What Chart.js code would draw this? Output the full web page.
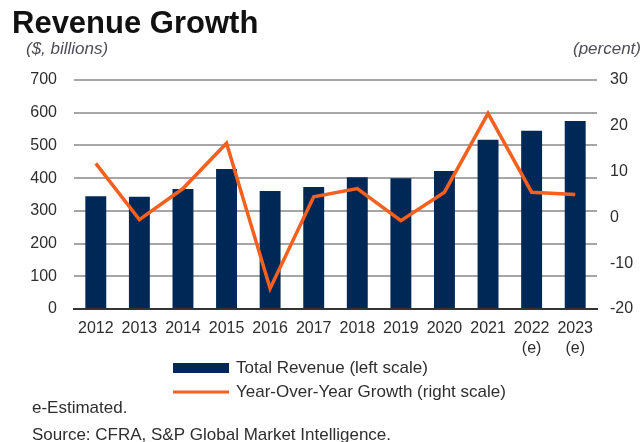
<!DOCTYPE html>
<html>
<head>
<meta charset="utf-8">
<script src="https://cdn.jsdelivr.net/npm/chart.js@4"></script>
<style>
  html, body { margin: 0; padding: 0; background: #fff; }
  #wrap { position: relative; width: 641px; height: 442px; }
</style>
</head>
<body>
<div id="wrap"><canvas id="revChart" width="641" height="442"></canvas></div>
<script>
// chart data
const years = ['2012', '2013', '2014', '2015', '2016', '2017', '2018', '2019', '2020', '2021', ['2022', '(e)'], ['2023', '(e)']];
const revenue = [345, 343, 367, 428, 361, 373, 403, 400, 422, 517, 545, 575];
const growth = [11.8, -0.5, 6.3, 16.2, -15.5, 4.5, 6.3, -0.7, 5.5, 22.7, 5.5, 5.0];

const NAVY = '#002856';
const ORANGE = '#f5601f';
const FONT = '"Liberation Sans", Arial, sans-serif';

// draws title, axis captions, legend and footer
const annotations = {
    id: 'annotations',
    afterDraw(chart) {
        const { ctx } = chart;
        ctx.save();
        ctx.textBaseline = 'alphabetic';
        ctx.fillStyle = '#111';
        ctx.font = 'bold 31px ' + FONT;
        ctx.fillText('Revenue Growth', 12, 33);

        ctx.fillStyle = '#4d4d58';
        ctx.font = 'italic 17px ' + FONT;
        ctx.textBaseline = 'middle';
        ctx.fillText('($, billions)', 26, 49);
        ctx.textAlign = 'right';
        ctx.fillText('(percent)', 641, 49);

        // legend
        ctx.textAlign = 'left';
        ctx.fillStyle = NAVY;
        ctx.fillRect(173, 363, 56, 10);
        ctx.strokeStyle = ORANGE;
        ctx.lineWidth = 3;
        ctx.beginPath();
        ctx.moveTo(173, 392);
        ctx.lineTo(229, 392);
        ctx.stroke();
        ctx.fillStyle = '#2e2e2e';
        ctx.font = '17px ' + FONT;
        ctx.fillText('Total Revenue (left scale)', 236, 368);
        ctx.fillText('Year-Over-Year Growth (right scale)', 236, 392);

        // footer
        ctx.font = '17px ' + FONT;
        ctx.fillText('e-Estimated.', 32, 408);
        ctx.fillText('Source: CFRA, S&P Global Market Intelligence.', 32, 435);
        ctx.restore();
    }
};

new Chart(document.getElementById('revChart'), {
    data: {
        labels: years,
        datasets: [
            {
                type: 'line',
                label: 'Year-Over-Year Growth (right scale)',
                data: growth,
                yAxisID: 'y1',
                borderColor: ORANGE,
                borderWidth: 3.5,
                pointRadius: 0,
                tension: 0,
                order: 0
            },
            {
                type: 'bar',
                label: 'Total Revenue (left scale)',
                data: revenue,
                yAxisID: 'y',
                backgroundColor: NAVY,
                categoryPercentage: 1,
                barPercentage: 0.48,
                order: 1
            }
        ]
    },
    options: {
        responsive: false,
        animation: false,
        layout: { padding: { top: 80, left: 0, right: 0, bottom: 83 } },
        plugins: {
            legend: { display: false },
            tooltip: { enabled: false }
        },
        scales: {
            x: {
                grid: { display: false, drawTicks: false },
                border: { display: true, color: '#333', width: 2 },
                ticks: {
                    color: '#2e2e2e',
                    padding: 10,
                    maxRotation: 0,
                    autoSkip: false,
                    font: { family: FONT, size: 16, lineHeight: 1.25 }
                },
                afterFit: (s) => { s.height = 50; }
            },
            y: {
                position: 'left',
                min: 0,
                max: 700,
                grid: {
                    drawTicks: false,
                    lineWidth: 2,
                    color: (c) => c.tick && c.tick.value === 0 ? '#333' : '#a6a6a6'
                },
                border: { display: false },
                ticks: {
                    stepSize: 100,
                    color: '#2e2e2e',
                    padding: 17,
                    font: { family: FONT, size: 16 }
                },
                afterFit: (s) => { s.width = 74; }
            },
            y1: {
                position: 'right',
                min: -20,
                max: 30,
                grid: { display: false, drawTicks: false },
                border: { display: false },
                ticks: {
                    stepSize: 10,
                    color: '#2e2e2e',
                    padding: 13,
                    font: { family: FONT, size: 16 }
                },
                afterFit: (s) => { s.width = 44; }
            }
        }
    },
    plugins: [annotations]
});
</script>
</body>
</html>
